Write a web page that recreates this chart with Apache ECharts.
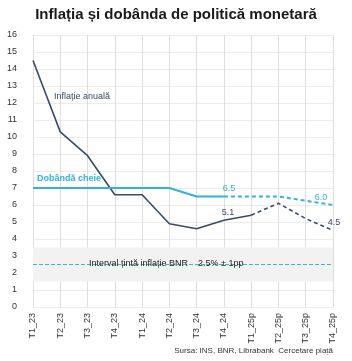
<!DOCTYPE html>
<html>
<head>
<meta charset="utf-8">
<script src="https://cdn.jsdelivr.net/npm/echarts@6/dist/echarts.min.js"></script>
<style>
  html, body { margin: 0; padding: 0; background: #fff; }
  #chart { width: 352px; height: 361px; }
</style>
</head>
<body>
<div id="chart"></div>
<script>
const categories = ['T1_23', 'T2_23', 'T3_23', 'T4_23', 'T1_24', 'T2_24', 'T3_24', 'T4_24', 'T1_25p', 'T2_25p', 'T3_25p', 'T4_25p'];
const inflation = [14.5, 10.3, 8.9, 6.6, 6.6, 4.9, 4.6, 5.1, 5.4, 6.1, 5.2, 4.5];
const keyRate = [7.0, 7.0, 7.0, 7.0, 7.0, 7.0, 6.5, 6.5, 6.5, 6.5, 6.25, 6.0];
const inflationLastActual = 8;  // T1_25p
const keyRateLastActual = 7;    // T4_24
const inflationLabelAt = [7, 11];
const keyRateLabelAt = [7, 11];
const targetBand = [1.5, 3.5];
const targetMid = 2.5;

const dark = '#3b4a68';
const blue = '#35b0de';
const font = 'Liberation Sans, Arial, sans-serif';

const build = (arr, last, part, labelAt, color, nudgeFor) =>
  arr.map((v, i) => {
    const keep = part === 'a' ? i <= last : i >= last;
    if (!keep) return null;
    const owner = part === 'a' ? i <= last : i > last;
    if (labelAt.includes(i) && owner) {
      return {
        value: v,
        label: {
          show: true,
          position: 'top',
          distance: 3,
          offset: nudgeFor[i] || [0, 0],
          color: color,
          fontSize: 9,
          fontFamily: font,
          formatter: p => p.value.toFixed(1)
        }
      };
    }
    return v;
  });

const lineBase = {
  type: 'line',
  symbol: 'circle',
  symbolSize: 0,
  showSymbol: true,
  label: { show: false }
};

const chart = echarts.init(document.getElementById('chart'));
chart.setOption({
  animation: false,
  title: {
    text: 'Inflația și dobânda de politică monetară',
    left: 'center',
    top: 2,
    textStyle: { fontFamily: font, fontSize: 15, fontWeight: 'bold', color: '#1a1a1a' }
  },
  grid: { left: 33, right: 19, top: 35, bottom: 54 },
  xAxis: {
    type: 'category',
    data: categories,
    boundaryGap: false,
    axisLine: { show: false },
    axisTick: { show: false },
    axisLabel: { rotate: 90, fontSize: 9, color: '#333', fontFamily: font, margin: 6 },
    splitLine: { show: true, lineStyle: { color: '#dedede' } }
  },
  yAxis: {
    type: 'value',
    min: 0,
    max: 16,
    interval: 1,
    axisLine: { show: false },
    axisTick: { show: false },
    axisLabel: { fontSize: 9, color: '#333', fontFamily: font, margin: 16 },
    splitLine: { lineStyle: { color: '#ececec' } }
  },
  series: [
    Object.assign({}, lineBase, {
      data: build(inflation, inflationLastActual, 'a', inflationLabelAt, dark, { 7: [4, 0] }),
      lineStyle: { color: dark, width: 1.6 },
      itemStyle: { color: dark },
      markArea: {
        silent: true,
        itemStyle: { color: '#f2f2f2' },
        data: [[{ yAxis: targetBand[0] }, { yAxis: targetBand[1] }]]
      },
      markLine: {
        silent: true,
        symbol: 'none',
        lineStyle: { color: '#3db5d6', type: 'dashed', width: 1 },
        label: { show: false },
        data: [{ yAxis: targetMid }]
      },
      z: 3
    }),
    Object.assign({}, lineBase, {
      data: build(inflation, inflationLastActual, 'b', inflationLabelAt, dark, { 11: [1, 0] }),
      lineStyle: { color: dark, width: 1.6, type: [4, 3] },
      itemStyle: { color: dark },
      z: 3
    }),
    Object.assign({}, lineBase, {
      data: build(keyRate, keyRateLastActual, 'a', keyRateLabelAt, blue, { 7: [5, 0] }),
      lineStyle: { color: blue, width: 2 },
      itemStyle: { color: blue },
      z: 4
    }),
    Object.assign({}, lineBase, {
      data: build(keyRate, keyRateLastActual, 'b', keyRateLabelAt, blue, { 11: [-12, 0] }),
      lineStyle: { color: blue, width: 2, type: [4, 3] },
      itemStyle: { color: blue },
      z: 4
    })
  ],
  graphic: [
    { type: 'text', left: 54, top: 92, z: 100, style: { text: 'Inflație anuală', fill: dark, font: '9px ' + font } },
    { type: 'text', left: 37, top: 174, z: 100, style: { text: 'Dobândă cheie', fill: blue, font: 'bold 9px ' + font } },
    { type: 'text', left: 89, top: 259, z: 100, style: { text: 'Interval țintă inflație BNR    2.5% ± 1pp', fill: '#222', font: '9px ' + font } },
    { type: 'text', right: 19, top: 347, z: 100, style: { text: 'Sursa: INS, BNR, Librabank  Cercetare piață', fill: '#333', font: '8px ' + font } }
  ]
});
</script>
</body>
</html>
